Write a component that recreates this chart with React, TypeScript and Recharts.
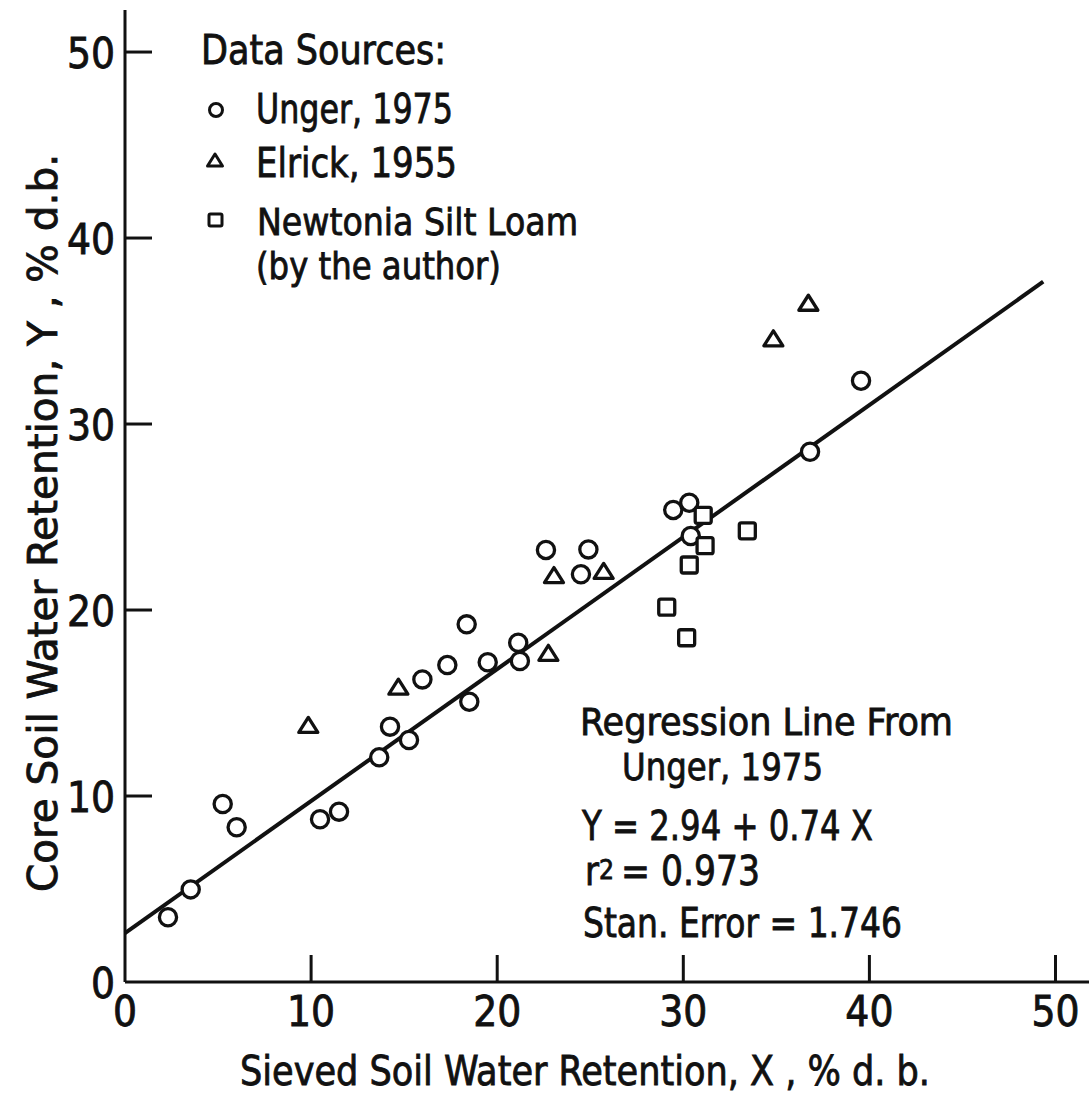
import React from 'react';
import { ScatterChart, Scatter, XAxis, YAxis, Legend, Customized } from 'recharts';

// ---------- data ----------
const xTicks = [0, 10, 20, 30, 40, 50];
const yTicks = [0, 10, 20, 30, 40, 50];

const ungerData = [
  { x: 2.31, y: 3.48 }, { x: 3.53, y: 4.98 }, { x: 5.25, y: 9.57 }, { x: 6.0, y: 8.32 },
  { x: 10.48, y: 8.75 }, { x: 11.5, y: 9.16 }, { x: 13.66, y: 12.08 }, { x: 14.24, y: 13.73 },
  { x: 15.26, y: 13.01 }, { x: 15.98, y: 16.27 }, { x: 17.32, y: 17.04 }, { x: 18.36, y: 19.23 },
  { x: 18.5, y: 15.07 }, { x: 19.49, y: 17.19 }, { x: 21.13, y: 18.24 }, { x: 21.22, y: 17.26 },
  { x: 22.62, y: 23.23 }, { x: 24.5, y: 21.92 }, { x: 24.9, y: 23.26 }, { x: 29.46, y: 25.38 },
  { x: 30.32, y: 25.77 }, { x: 30.4, y: 23.98 }, { x: 36.81, y: 28.51 }, { x: 39.55, y: 32.33 },
];

const elrickData = [
  { x: 9.85, y: 13.82 }, { x: 14.69, y: 15.88 }, { x: 22.75, y: 17.7 }, { x: 23.05, y: 21.88 },
  { x: 25.72, y: 22.1 }, { x: 34.84, y: 34.61 }, { x: 36.72, y: 36.52 },
];

const newtoniaData = [
  { x: 29.11, y: 20.15 }, { x: 30.18, y: 18.51 }, { x: 30.32, y: 22.42 },
  { x: 31.07, y: 25.09 }, { x: 31.17, y: 23.46 }, { x: 33.44, y: 24.26 },
];

const regressionLine = [{ x: 0, y: 2.63 }, { x: 49.34, y: 37.65 }];

const legendTitle = 'Data Sources:';
const seriesNames = ['Unger, 1975', 'Elrick, 1955', 'Newtonia Silt Loam'];
const seriesNote = '(by the author)';
const xTitle = 'Sieved Soil Water Retention, X , % d. b.';
const yTitle = 'Core Soil Water Retention, Y , % d.b.';
const noteLines = ['Regression Line From', 'Unger, 1975', 'Y = 2.94 + 0.74 X', 'Stan. Error = 1.746'];
const r2Value = '= 0.973';

// ---------- style ----------
const W = 1089;
const H = 1097;
const INK = '#111';
const FONT = "'Liberation Sans Narrow', 'DejaVu Sans Condensed', 'Liberation Sans', Arial, sans-serif";
const MARK_STROKE = 3.3;
const TEXT_STROKE = 0.8;

const CircleMark = (p: any) => (
  <circle cx={p.cx} cy={p.cy} r={8.6} fill="#fff" stroke={INK} strokeWidth={MARK_STROKE} />
);
const triPath = (cx: number, cy: number, w: number, h: number) =>
  `M${cx},${cy - h / 2} L${cx + w / 2},${cy + h / 2} L${cx - w / 2},${cy + h / 2} Z`;
const TriMark = (p: any) => (
  <path d={triPath(p.cx, p.cy, 19, 15)} fill="#fff" stroke={INK} strokeWidth={MARK_STROKE} strokeLinejoin="round" />
);
const SquareMark = (p: any) => (
  <rect x={p.cx - 8} y={p.cy - 8} width={16} height={16} rx={2} fill="#fff" stroke={INK} strokeWidth={MARK_STROKE} />
);
const NoMark = () => <g />;

const XTick = (p: any) => {
  const v = p.payload.value;
  return (
    <g>
      {v !== 0 && <line x1={p.x} x2={p.x} y1={p.y} y2={p.y - 27} stroke={INK} strokeWidth={3} />}
      <text x={p.x} y={p.y + 44} textAnchor="middle" fontFamily={FONT} fontSize={42} fill={INK}
        stroke={INK} strokeWidth={TEXT_STROKE}>{v}</text>
    </g>
  );
};
const YTick = (p: any) => {
  const v = p.payload.value;
  return (
    <g>
      {v !== 0 && <line x1={p.x} x2={p.x + 27} y1={p.y} y2={p.y} stroke={INK} strokeWidth={3} />}
      <text x={p.x - 10} y={p.y + 16} textAnchor="end" fontFamily={FONT} fontSize={42} fill={INK}
        stroke={INK} strokeWidth={TEXT_STROKE}>{v}</text>
    </g>
  );
};

const T = (p: any) => (
  <text x={p.x} y={p.y} fontFamily={FONT} fontSize={p.size || 40} fill={INK} stroke={INK} strokeWidth={TEXT_STROKE}
    textLength={p.len} lengthAdjust="spacingAndGlyphs" transform={p.transform}>{p.children}</text>
);

const LegendContent = () => {
  const ox = 180;
  const oy = 20;
  return (
    <svg width={420} height={300} style={{ display: 'block', overflow: 'visible' }}>
      <g transform={`translate(${-ox},${-oy})`}>
        <T x={201} y={64} len={245}>{legendTitle}</T>
        <circle cx={216} cy={110} r={6.5} fill="#fff" stroke={INK} strokeWidth={3} />
        <T x={256} y={123} len={197}>{seriesNames[0]}</T>
        <path d={triPath(215, 160, 15, 12)} fill="#fff" stroke={INK} strokeWidth={3} strokeLinejoin="round" />
        <T x={256} y={177} len={201}>{seriesNames[1]}</T>
        <rect x={209} y={214} width={13} height={12} rx={1.5} fill="#fff" stroke={INK} strokeWidth={3} />
        <T x={257} y={235} size={38} len={321}>{seriesNames[2]}</T>
        <T x={256} y={279} size={38} len={245}>{seriesNote}</T>
      </g>
    </svg>
  );
};

const Annotations = () => (
  <g>
    <T x={240} y={1085} len={690}>{xTitle}</T>
    <T x={0} y={0} len={738} transform="translate(57,892) rotate(-90)">{yTitle}</T>
    <T x={580} y={735} size={38} len={373}>{noteLines[0]}</T>
    <T x={622} y={780} size={38} len={201}>{noteLines[1]}</T>
    <T x={582} y={840} len={291}>{noteLines[2]}</T>
    <T x={585} y={885} len={14}>r</T>
    <T x={599} y={879} size={26} len={15}>2</T>
    <T x={621} y={885} len={139}>{r2Value}</T>
    <T x={583} y={937} len={319}>{noteLines[3]}</T>
  </g>
);

export default function App() {
  return (
    <div style={{ position: 'absolute', left: 0, top: 0, width: W, height: H, background: '#fff' }}>
      <ScatterChart width={W} height={H} margin={{ top: 10, right: 0, bottom: 0, left: 0 }}>
        <XAxis
          type="number"
          dataKey="x"
          domain={[0, 51.8]}
          ticks={xTicks}
          interval={0}
          height={115}
          tickSize={0}
          tickMargin={0}
          tickLine={false}
          tick={<XTick />}
          axisLine={{ stroke: INK, strokeWidth: 3 }}
        />
        <YAxis
          type="number"
          dataKey="y"
          domain={[0, 52.26]}
          ticks={yTicks}
          interval={0}
          width={125}
          tickSize={0}
          tickMargin={0}
          tickLine={false}
          tick={<YTick />}
          axisLine={{ stroke: INK, strokeWidth: 3 }}
        />
        <Scatter name="Regression" data={regressionLine} line={{ stroke: INK, strokeWidth: 4 }}
          shape={<NoMark />} legendType="none" isAnimationActive={false} />
        <Scatter name={seriesNames[0]} data={ungerData} shape={<CircleMark />} isAnimationActive={false} />
        <Scatter name={seriesNames[1]} data={elrickData} shape={<TriMark />} isAnimationActive={false} />
        <Scatter name={seriesNames[2]} data={newtoniaData} shape={<SquareMark />} isAnimationActive={false} />
        <Legend layout="vertical" align="center" verticalAlign="middle" content={<LegendContent />}
          wrapperStyle={{ left: 180, top: 20, width: 420, height: 300 }} />
        <Customized component={<Annotations />} />
      </ScatterChart>
    </div>
  );
}
